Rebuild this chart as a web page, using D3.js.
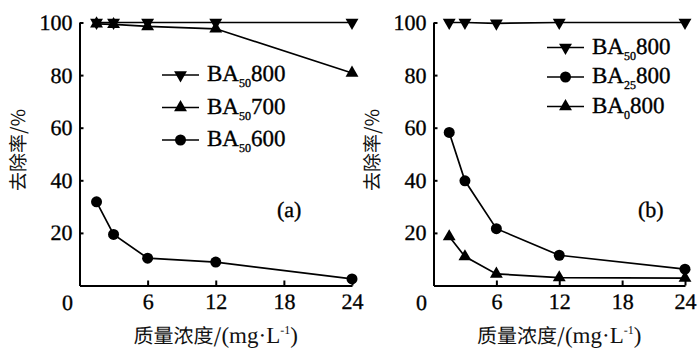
<!DOCTYPE html>
<html><head><meta charset="utf-8">
<script src="https://cdn.jsdelivr.net/npm/d3@7"></script>
<style>body{margin:0;background:#fff}svg{display:block}text{text-rendering:geometricPrecision}</style>
</head><body><svg id="c" width="700" height="350"></svg>
<script>
const conc = [1.5, 3, 6, 12, 24];
const xTicks = [6, 12, 18, 24];
const yTicks = [20, 40, 60, 80, 100];
// panel (a)
const a_BA50_800 = [100, 100, 100, 100, 100];
const a_BA50_700 = [99.5, 99.3, 98.5, 97.6, 80.8];
const a_BA50_600 = [31.8, 19.4, 10.4, 8.9, 2.5];
// panel (b)
const b_BA50_800 = [100, 100, 99.7, 100, 100];
const b_BA25_800 = [58.2, 39.8, 21.6, 11.5, 6.2];
const b_BA0_800 = [18.6, 11.0, 4.4, 3.0, 2.8];

const serif = "'Liberation Serif', 'Times New Roman', serif";
const cjk = "'Noto Sans CJK SC', sans-serif";
const svg = d3.select('#c');

function marker(g, type, cx, cy) {
  if (type === 'circle') {
    g.append('circle').attr('cx', cx).attr('cy', cy).attr('r', 5.5).attr('fill', '#000');
  } else {
    const s = d3.symbol().type(d3.symbolTriangle).size(72);
    g.append('path').attr('d', s()).attr('fill', '#000')
      .attr('transform', `translate(${cx},${cy})` + (type === 'down' ? ' rotate(180)' : ''));
  }
}

function serifText(sel) {
  return sel.style('font-family', serif).attr('fill', '#000')
    .attr('stroke', '#000').attr('stroke-width', 0.35);
}

function panel(opt) {
  const x = d3.scaleLinear().domain([0, 24]).range([opt.x0, opt.x1]);
  const y = d3.scaleLinear().domain([0, 100]).range([opt.y0, opt.y1]);
  const g = svg.append('g');

  opt.series.forEach(s => {
    const line = d3.line().x((d, i) => x(conc[i])).y(d => y(d));
    g.append('path').datum(s.values).attr('d', line)
      .attr('fill', 'none').attr('stroke', '#000').attr('stroke-width', 1.7);
    s.values.forEach((v, i) => marker(g, s.type, x(conc[i]), y(v)));
  });

  const ax = g.append('g').attr('transform', `translate(0,${y(0)})`)
    .call(d3.axisBottom(x).tickValues(xTicks).tickSize(-5).tickSizeOuter(0).tickPadding(8));
  const ay = g.append('g').attr('transform', `translate(${x(0)},0)`)
    .call(d3.axisLeft(y).tickValues(yTicks).tickSize(-4).tickSizeOuter(0).tickPadding(7));
  [ax, ay].forEach(a => {
    a.attr('font-family', null).attr('font-size', null);
    a.select('.domain').attr('stroke-width', 2);
    a.selectAll('.tick line').attr('stroke-width', 2);
    serifText(a.selectAll('text')).style('font-size', '22px');
  });
  serifText(g.append('text').attr('x', x(0) - 12).attr('y', y(0) + 24)
    .attr('text-anchor', 'middle')).style('font-size', '22px').text('0');

  opt.series.forEach((s, i) => {
    const ly = opt.legY + i * opt.legDy;
    g.append('line').attr('x1', opt.legX).attr('x2', opt.legX + 37).attr('y1', ly).attr('y2', ly)
      .attr('stroke', '#000').attr('stroke-width', 1.7);
    marker(g, s.type, opt.legX + 18.5, ly);
    const t = serifText(g.append('text').attr('x', opt.legX + 45).attr('y', ly + 6))
      .style('font-size', '23px');
    t.append('tspan').text('BA');
    t.append('tspan').style('font-size', '12px').attr('dy', 6).text(s.sub);
    t.append('tspan').attr('dy', -6).text(s.num);
  });

  serifText(g.append('text').attr('x', opt.labX).attr('y', 217))
    .style('font-size', '22px').text(opt.label);

  g.append('text').attr('transform', `translate(${opt.x0 - 61},150) rotate(-90)`)
    .attr('text-anchor', 'middle').attr('dy', '0.35em').style('font-family', cjk).style('font-size', '19px')
    .attr('fill', '#111').text('去除率/%');

  const xt = g.append('text').attr('x', (opt.x0 + opt.x1) / 2).attr('y', 343)
    .attr('text-anchor', 'middle').style('font-family', cjk).style('font-size', '20px')
    .attr('fill', '#111');
  xt.append('tspan').text('质量浓度/');
  xt.append('tspan').style('font-family', serif).style('font-size', '23px').text('(mg·L');
  xt.append('tspan').style('font-family', serif).style('font-size', '12px').attr('dy', -9).text('-1');
  xt.append('tspan').style('font-family', serif).style('font-size', '23px').attr('dy', 9).text(')');
}

panel({
  x0: 79.5, x1: 352, y0: 285.5, y1: 22.5,
  series: [
    {values: a_BA50_800, type: 'down', sub: '50', num: '800'},
    {values: a_BA50_700, type: 'up', sub: '50', num: '700'},
    {values: a_BA50_600, type: 'circle', sub: '50', num: '600'}
  ],
  legX: 162, legY: 75, legDy: 32.5, label: '(a)', labX: 277
});
panel({
  x0: 433.5, x1: 685, y0: 285.5, y1: 22.5,
  series: [
    {values: b_BA50_800, type: 'down', sub: '50', num: '800'},
    {values: b_BA25_800, type: 'circle', sub: '25', num: '800'},
    {values: b_BA0_800, type: 'up', sub: '0', num: '800'}
  ],
  legX: 547, legY: 47.5, legDy: 29.5, label: '(b)', labX: 638
});
</script></body></html>
